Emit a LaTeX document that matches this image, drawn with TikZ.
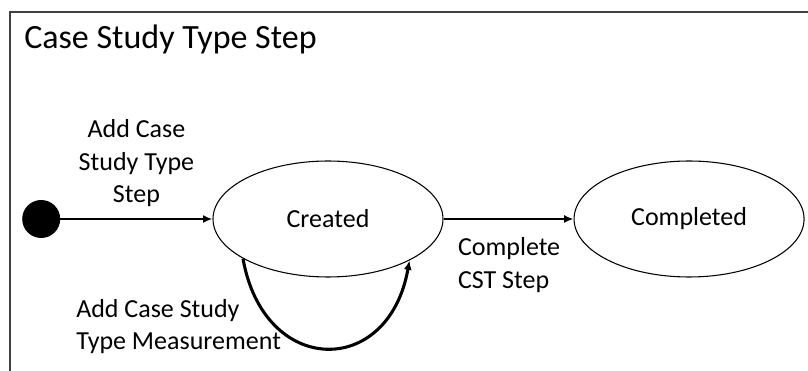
\documentclass[tikz,border=0pt]{standalone}
\usepackage{fontspec}
\setmainfont{Carlito}
\usetikzlibrary{shapes.geometric, arrows.meta, positioning}

\begin{document}
\begin{tikzpicture}[
  node distance=114pt,
  state/.style={ellipse, draw=black, line width=0.8pt, minimum width=172.5pt,
               minimum height=87pt, font=\fontsize{19.5pt}{24.5pt}\selectfont},
  initdot/.style={circle, fill=black, minimum size=28.5pt, inner sep=0pt},
  lbl/.style={font=\fontsize{19.5pt}{24.5pt}\selectfont, inner sep=0pt},
  arrow/.style={-{Latex[length=7pt,width=6pt]}, line width=1.8pt},
  frame/.style={draw=black!75, line width=1.5pt}
]
\useasboundingbox (0,0) rectangle (606pt,278.25pt);
\clip (0,0) rectangle (606pt,278.25pt);
\draw[frame] (7.5pt,-10pt) |- (620pt,269.25pt);
\node[font=\fontsize{25.5pt}{30pt}\selectfont, anchor=base west, inner sep=0pt] (title) at (18pt,241.5pt) {Case Study Type Step};

\node[state] (created) at (246pt,114pt) {Created};
\node[initdot, left=of created] (init) {};
\node[state, right=97.5pt of created] (completed) {Completed};

\draw[arrow] (init) -- node[lbl, above=8pt, align=center] {Add Case\\Study Type\\Step} (created);
\draw[arrow] (created) -- node[lbl, pos=0, below right=13pt and 10pt, align=left] {Complete\\CST Step} (completed);
\draw[arrow, line width=2.3pt] (created.205) .. controls +(-80:90pt) and +(-100:90pt) .. (created.333);
\node[lbl, align=left, anchor=north west] (measlabel) at (57pt,54pt) {Add Case Study\\Type Measurement};
\end{tikzpicture}
\end{document}
